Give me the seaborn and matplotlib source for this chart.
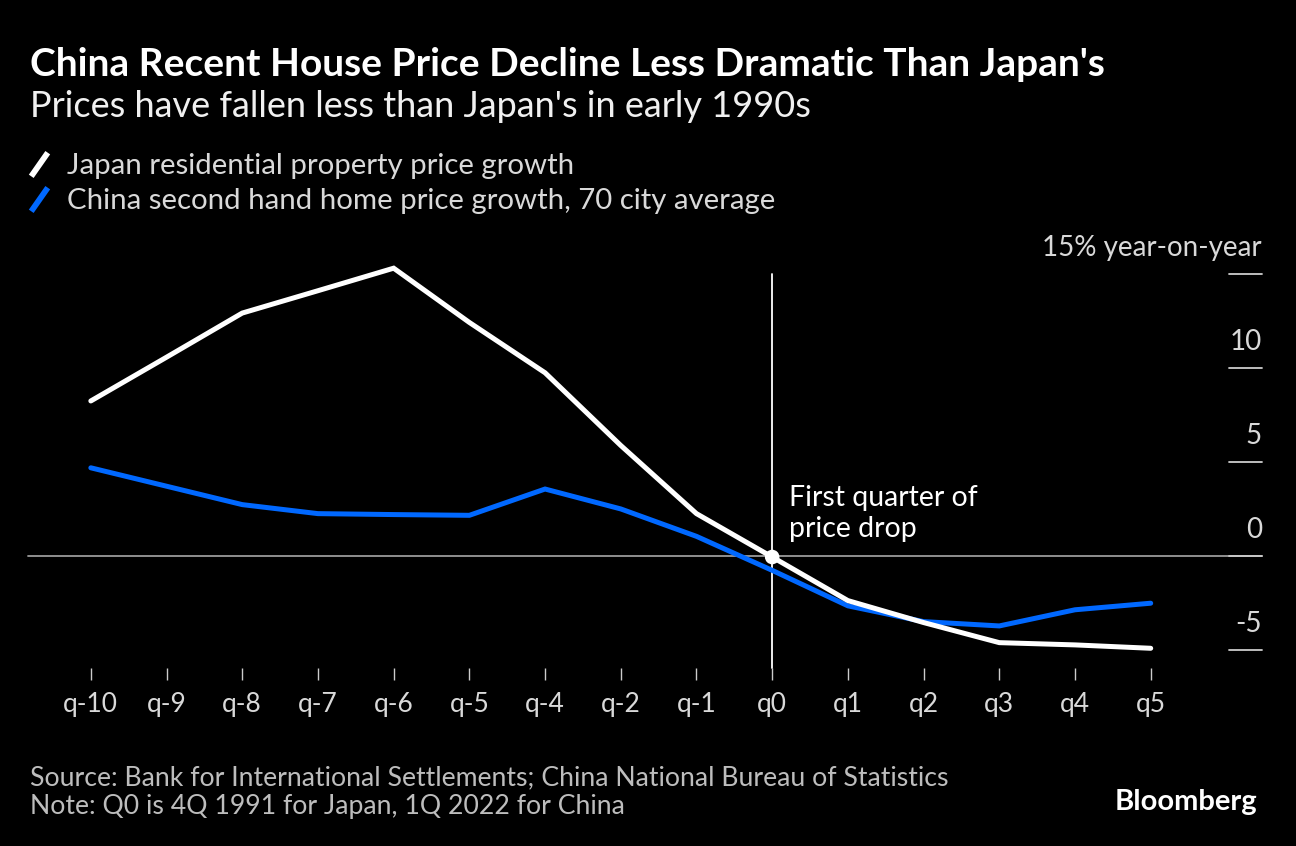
import matplotlib
matplotlib.use("Agg")
import matplotlib.pyplot as plt
from matplotlib.lines import Line2D
from matplotlib.path import Path
import seaborn as sns
import pandas as pd
import numpy as np

quarters = ["q-10", "q-9", "q-8", "q-7", "q-6", "q-5", "q-4", "q-2", "q-1",
            "q0", "q1", "q2", "q3", "q4", "q5"]
japan = [8.24, 10.57, 12.92, 14.11, 15.31, 12.42, 9.74, 5.87, 2.24,
         -0.07, -2.39, -3.56, -4.63, -4.75, -4.93]
china = [4.68, 3.70, 2.72, 2.24, 2.19, 2.15, 3.55, 2.49, 1.03,
         -0.78, -2.67, -3.51, -3.74, -2.88, -2.53]
series_names = ["Japan residential property price growth",
                "China second hand home price growth, 70 city average"]
y_ticks = [15, 10, 5, 0, -5]
y_tick_labels = ["15% year-on-year", "10", "5", "0", "-5"]

BG = "#000000"
WHITE = "#ffffff"
BLUE = "#0068ff"
TXT = "#d9d9d9"

sns.set_theme(style="dark")
plt.rcParams["font.family"] = ["Lato", "DejaVu Sans"]

df = pd.DataFrame({
    "pos": list(range(len(quarters))) * 2,
    "value": japan + china,
    "series": [series_names[0]] * len(quarters) + [series_names[1]] * len(quarters),
})

fig = plt.figure(figsize=(12.96, 8.46), dpi=100, facecolor=BG)
ax = fig.add_axes([28 / 1296, 1 - 668 / 846, (1262 - 28) / 1296, (668 - 274) / 846])
ax.set_facecolor(BG)

# reference lines
ax.axhline(0, color="#9a9a9a", lw=1.3, zorder=1)
ax.axvline(quarters.index("q0"), ymin=0, ymax=1, color=WHITE, lw=1.3, zorder=1, clip_on=False)

sns.lineplot(data=df, x="pos", y="value", hue="series",
             palette={series_names[0]: WHITE, series_names[1]: BLUE},
             hue_order=[series_names[1], series_names[0]],
             linewidth=3.6, legend=False, ax=ax, zorder=3)
for ln in ax.get_lines():
    ln.set_solid_capstyle("round")
    ln.set_solid_joinstyle("miter")
    ln.set_clip_on(False)

i0 = quarters.index("q0")
ax.scatter([i0], [japan[i0]], s=110, color=WHITE, zorder=5, edgecolor="none")

ax.set_xlim(-0.83, len(quarters) - 1 + 1.47)
ax.set_ylim(-5.98, 15)
ax.set_xticks(range(len(quarters)))
ax.set_xticklabels(quarters)
ax.tick_params(axis="x", colors="#cccccc", labelcolor=TXT, labelsize=19,
               length=8.5, width=1, pad=9, direction="out", bottom=True)
ax.set_yticks([])
ax.set_xlabel("")
ax.set_ylabel("")
for s in ax.spines.values():
    s.set_visible(False)
ax.grid(False)

ytr = ax.get_yaxis_transform()
for v, lab in zip(y_ticks, y_tick_labels):
    ax.plot([1 - 33 / 1234, 1], [v, v], transform=ytr, color="#cccccc",
            lw=1.3, clip_on=False, zorder=2)
    ax.annotate(lab, xy=(1, v), xycoords=ytr, xytext=(0, 13),
                textcoords="offset points", ha="right", va="baseline",
                color=TXT, fontsize=20)

ax.annotate("First quarter of\nprice drop", xy=(i0, japan[i0]),
            xytext=(12, 11), textcoords="offset points", ha="left", va="bottom",
            color=WHITE, fontsize=20.5, linespacing=1.22)

# title & subtitle
fig.text(30 / 1296, 1 - 76 / 846, "China Recent House Price Decline Less Dramatic Than Japan's",
         color=WHITE, fontsize=28, fontweight="bold", ha="left", va="baseline")
fig.text(30 / 1296, 1 - 117 / 846, "Prices have fallen less than Japan's in early 1990s",
         color="#f0f0f0", fontsize=26, ha="left", va="baseline")

# legend
slash = Path([(-0.7, -1.0), (0.7, 1.0)], [Path.MOVETO, Path.LINETO])
handles = [Line2D([], [], linestyle="none", marker=slash, markersize=17,
                  markeredgewidth=4.2, markeredgecolor=c, color=c)
           for c in (WHITE, BLUE)]
fig.legend(handles, series_names, loc="upper left",
           bbox_to_anchor=(24 / 1296, 1 - 153 / 846), frameon=False,
           labelcolor=TXT, fontsize=21.2, handlelength=1.0, handletextpad=0.45,
           labelspacing=0.3, borderaxespad=0, borderpad=0)

# footer
fig.text(30 / 1296, 1 - 785 / 846,
         "Source: Bank for International Settlements; China National Bureau of Statistics",
         color="#bdbdbd", fontsize=19.2, ha="left", va="baseline")
fig.text(30 / 1296, 1 - 814 / 846, "Note: Q0 is 4Q 1991 for Japan, 1Q 2022 for China",
         color="#bdbdbd", fontsize=19.2, ha="left", va="baseline")
fig.text(1257 / 1296, 1 - 810 / 846, "Bloomberg", color=WHITE, fontsize=21,
         fontweight="bold", ha="right", va="baseline")

fig.savefig("out.png", dpi=100, facecolor=BG)
